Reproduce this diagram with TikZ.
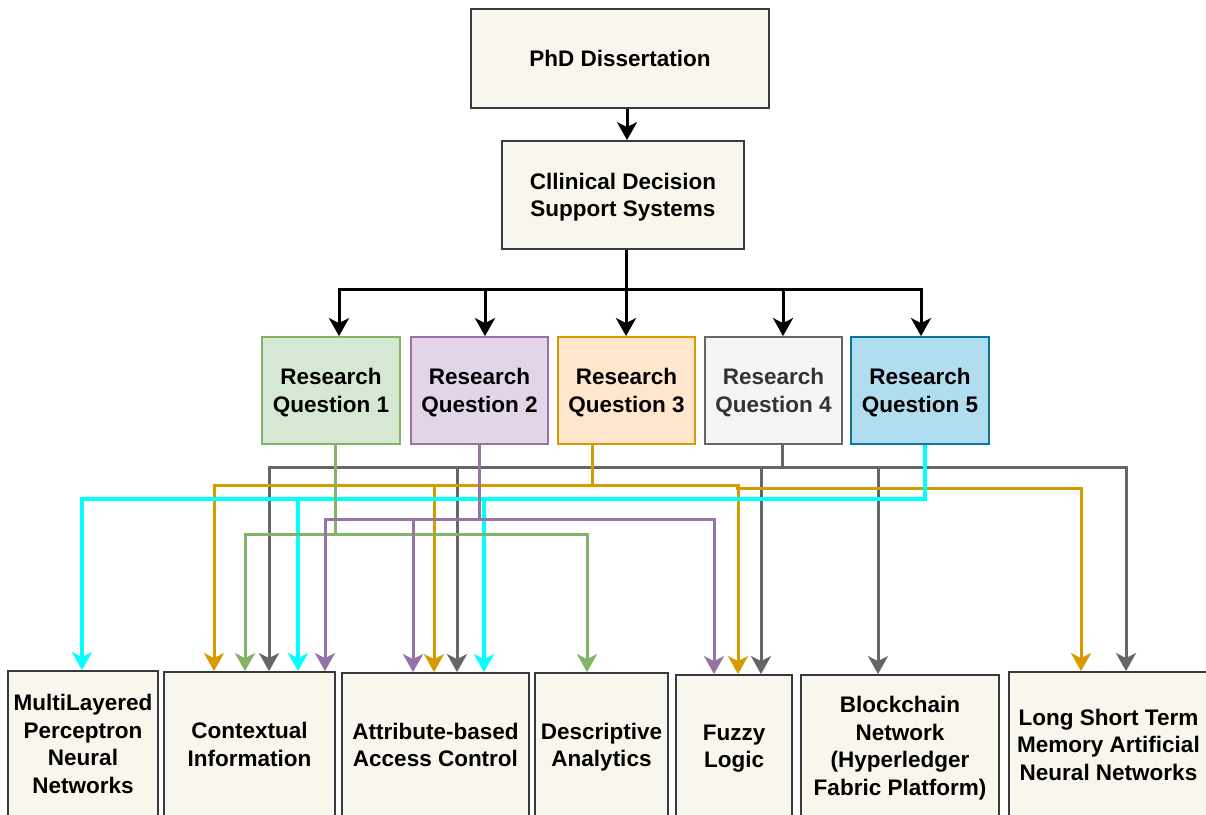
\documentclass[tikz,border=0pt]{standalone}
\usepackage{fontspec}
\setmainfont{Liberation Sans}
\usetikzlibrary{arrows.meta}

\definecolor{beigefill}{HTML}{F9F7ED}
\definecolor{beigeline}{HTML}{36393D}
\definecolor{greenfill}{HTML}{D5E8D4}
\definecolor{greenline}{HTML}{82B366}
\definecolor{purplefill}{HTML}{E1D5E7}
\definecolor{purpleline}{HTML}{9673A6}
\definecolor{orangefill}{HTML}{FFE6CC}
\definecolor{orangeline}{HTML}{D79B00}
\definecolor{grayfill}{HTML}{F5F5F5}
\definecolor{grayline}{HTML}{666666}
\definecolor{graytext}{HTML}{333333}
\definecolor{bluefill}{HTML}{B1DDF0}
\definecolor{blueline}{HTML}{10739E}
\definecolor{cyanline}{HTML}{00FFFF}

\tikzset{
  basebox/.style={rectangle, line width=1.8pt, inner sep=0pt, align=center,
    text depth=0pt, font=\fontsize{22.5}{27.5}\selectfont\bfseries},
  topicbox/.style={basebox, draw=beigeline, fill=beigefill},
  rqbox/.style 2 args={basebox, fill=#1, draw=#2,
    minimum height=107pt},
  link/.style={line width=3pt, line join=miter,
    -{Stealth[length=18pt, width=20pt, inset=5pt]}},
  blacklink/.style={link, draw=black},
  greenlink/.style={link, draw=greenline},
  purplelink/.style={link, draw=purpleline},
  orangelink/.style={link, draw=orangeline},
  graylink/.style={link, draw=grayline},
  cyanlink/.style={link, draw=cyanline, line width=4pt},
}

\begin{document}
\begin{tikzpicture}[x=1pt, y=-1pt]
  \useasboundingbox[fill=white] (0,0) rectangle (1206,814);

  % top of the hierarchy
  \node[topicbox, minimum width=298pt, minimum height=99pt] (phd) at (620,58.5) {PhD Dissertation};
  \node[topicbox, minimum width=242pt, minimum height=108pt] (cdss) at (623,195) {Cllinical Decision\\Support Systems};

  % research questions
  \node[rqbox={greenfill}{greenline}, minimum width=138pt] (rq1) at (331,390.5) {Research\\Question 1};
  \node[rqbox={purplefill}{purpleline}, minimum width=137pt] (rq2) at (479.5,390.5) {Research\\Question 2};
  \node[rqbox={orangefill}{orangeline}, minimum width=137pt] (rq3) at (626.5,390.5) {Research\\Question 3};
  \node[rqbox={grayfill}{grayline}, minimum width=137pt, text=graytext] (rq4) at (773.5,390.5) {Research\\Question 4};
  \node[rqbox={bluefill}{blueline}, minimum width=138pt] (rq5) at (920,390.5) {Research\\Question 5};

  % methods and technologies (running past the lower edge)
  \node[topicbox, minimum width=150pt, minimum height=146pt] (mlp) at (83,744) {MultiLayered\\Perceptron\\Neural\\Networks};
  \node[topicbox, minimum width=171pt, minimum height=145pt] (ctx) at (249.5,744.5) {Contextual\\Information};
  \node[topicbox, minimum width=187pt, minimum height=144pt] (abac) at (435.5,745) {Attribute-based\\Access Control};
  \node[topicbox, minimum width=133pt, minimum height=144pt] (desc) at (601.5,745) {Descriptive\\Analytics};
  \node[topicbox, minimum width=116pt, minimum height=142pt] (fuzzy) at (734,746) {Fuzzy\\Logic};
  \node[topicbox, minimum width=198pt, minimum height=142pt] (chain) at (900,746) {Blockchain\\Network\\(Hyperledger\\Fabric Platform)};
  \node[topicbox, minimum width=199pt, minimum height=145pt] (lstm) at (1108.5,744.5) {Long Short Term\\Memory Artificial\\Neural Networks};

  % dissertation to CDSS to research questions
  \draw[blacklink] (phd.south -| 627,0) -- (cdss.north -| 627,0);
  \draw[blacklink] (cdss.south -| 626,0) |- (339,289) -- (rq1.north -| 339,0);
  \draw[blacklink] (cdss.south -| 626,0) |- (485,289) -- (rq2.north -| 485,0);
  \draw[blacklink] (cdss.south -| 626,0) -- (rq3.north -| 626,0);
  \draw[blacklink] (cdss.south -| 626,0) |- (783,289) -- (rq4.north -| 783,0);
  \draw[blacklink] (cdss.south -| 626,0) |- (921,289) -- (rq5.north -| 921,0);

  % research question 4
  \draw[graylink] (rq4.south -| 782,0) |- (269,467) -- (ctx.north -| 269,0);
  \draw[graylink] (rq4.south -| 782,0) |- (457,467) -- (abac.north -| 457,0);
  \draw[graylink] (rq4.south -| 782,0) |- (761,467) -- (fuzzy.north -| 761,0);
  \draw[graylink] (rq4.south -| 782,0) |- (878,467) -- (chain.north -| 878,0);
  \draw[graylink] (rq4.south -| 782,0) |- (1126,467) -- (lstm.north -| 1126,0);

  % research question 3
  \draw[orangelink] (rq3.south -| 592,0) |- (214,485) -- (ctx.north -| 214,0);
  \draw[orangelink] (rq3.south -| 592,0) |- (434,485) -- (abac.north -| 434,0);
  \draw[orangelink] (rq3.south -| 592,0) |- (738,485) -- (fuzzy.north -| 738,0);
  \draw[orangelink] (rq3.south -| 592,0) |- (737,485) -- (737,488) -- (1081,488) -- (lstm.north -| 1081,0);

  % research question 5
  \draw[cyanlink] (rq5.south -| 925,0) |- (82,499) -- (mlp.north -| 82,0);
  \draw[cyanlink] (rq5.south -| 925,0) |- (298,499) -- (ctx.north -| 298,0);
  \draw[cyanlink] (rq5.south -| 925,0) |- (484,499) -- (abac.north -| 484,0);

  % research question 1
  \draw[greenlink] (rq1.south -| 335,0) |- (245,534) -- (ctx.north -| 245,0);
  \draw[greenlink] (rq1.south -| 335,0) |- (587,534) -- (desc.north -| 587,0);

  % research question 2
  \draw[purplelink] (rq2.south -| 479,0) |- (325,519) -- (ctx.north -| 325,0);
  \draw[purplelink] (rq2.south -| 479,0) |- (413,519) -- (abac.north -| 413,0);
  \draw[purplelink] (rq2.south -| 479,0) |- (714,519) -- (fuzzy.north -| 714,0);
\end{tikzpicture}
\end{document}
